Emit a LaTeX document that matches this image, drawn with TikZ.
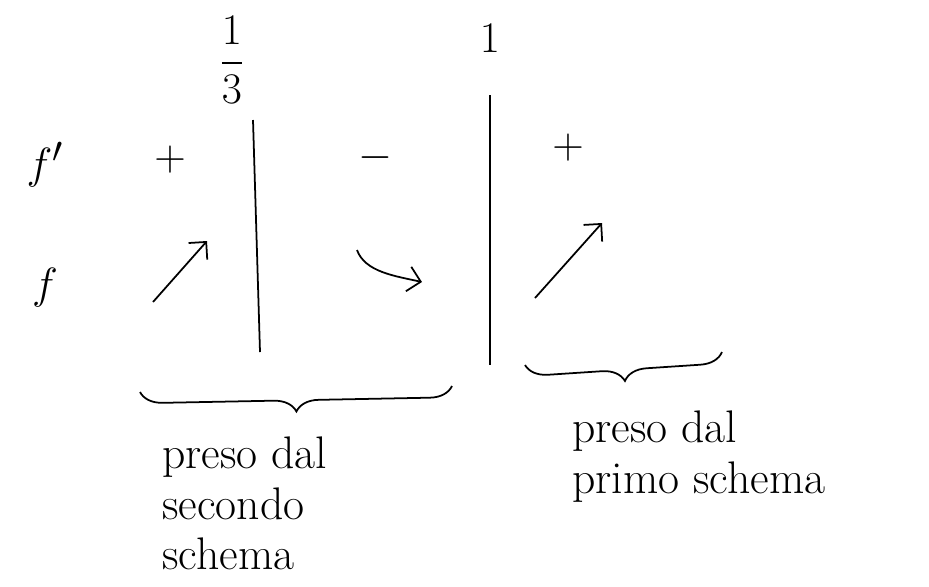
\documentclass[tikz,border=0pt]{standalone}
\usepackage{amsmath,amssymb}
\usepackage{tikz}
\usetikzlibrary{arrows.meta,positioning,calc,decorations.pathreplacing}

\begin{document}
\begin{tikzpicture}[x=0.02cm,y=-0.02cm,
      every node/.style={font=\fontsize{26}{29}\selectfont},
      sign/.style={font=\fontsize{30}{30}\selectfont},
      row/.style={font=\fontsize{32}{32}\selectfont},
      bar/.style={line width=1pt},
      trend/.style={-{Straight Barb[length=2.5mm,width=5mm]},line width=1pt},
      brc/.style={decorate,line width=1pt,decoration={brace,mirror,amplitude=0.45cm}},
      note/.style={align=left,anchor=north west,inner sep=0pt}]
      \useasboundingbox (0,0) rectangle (929,586);
      % top values
      \node (third) at (232,60) {$\displaystyle\frac{1}{3}$};
      \node (one) at (490,38) {$1$};
      % row labels
      \node[row] (fp) at (45,165) {$f'$};
      \node[row] (f) at (45,288) {$f$};
      % vertical separators
      \coordinate (t1) at (253,120); \coordinate (b1) at (260,352);
      \coordinate (t2) at (490,95);  \coordinate (b2) at (490,365);
      \draw[bar] (t1)--(b1);
      \draw[bar] (t2)--(b2);
      % signs of f'
      \node[sign] (s1) at (170,160) {$+$};
      \node[sign] (s2) at (375,158) {$-$};
      \node[sign] (s3) at (568,148) {$+$};
      % behaviour of f
      \coordinate (a1) at (153,302); \coordinate (a1e) at (207,241);
      \coordinate (a2) at (357,250); \coordinate (a2e) at (422,282);
      \coordinate (a3) at (535,298); \coordinate (a3e) at (602,223);
      \draw[trend] (a1)--(a1e);
      \draw[trend] (a2) .. controls (365,272) and (395,276) .. (a2e);
      \draw[trend] (a3)--(a3e);
      % braces
      \coordinate (l1) at (140,392); \coordinate (r1) at (452,386);
      \coordinate (l2) at (525,365); \coordinate (r2) at (722,352);
      \draw[brc] (l1)--(r1);
      \draw[brc] (l2)--(r2);
      % notes
      \node[note] (n1) at (162,436) {preso dal\\secondo\\schema};
      \node[note] (n2) at (572,410) {preso dal\\primo schema};
    \end{tikzpicture}
\end{document}
